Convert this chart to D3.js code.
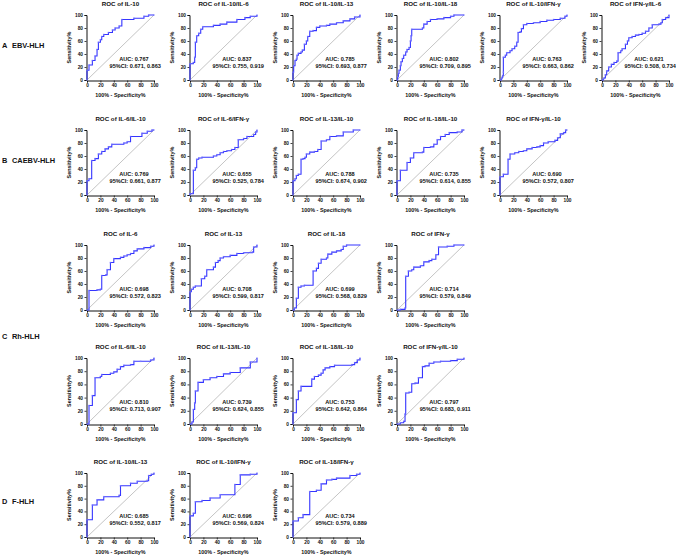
<!DOCTYPE html>
<html>
<head>
<meta charset="utf-8">
<script src="https://cdn.jsdelivr.net/npm/d3@7"></script>
<style>
  body { margin: 0; background: #fff; }
  text { font-family: Arial, "Liberation Sans", sans-serif; font-weight: bold; fill: #111; }
</style>
</head>
<body>
<div id="chart"></div>
<script>
// ROC points: [100% - specificity, sensitivity], drawn as steps (right, then up)
const ebv_il10      = [[0,0],[0,15],[3,23],[8,30],[12,37],[15,47],[17,58],[20,62],[22,67],[25,70],[32,73],[38,77],[42,80],[48,83],[52,93],[70,95],[85,98],[92,100],[100,100]];
const ebv_il10_il6  = [[0,0],[0,25],[5,27],[7,35],[8,58],[10,68],[13,72],[16,78],[19,82],[35,84],[45,86],[55,89],[70,93],[82,96],[90,98],[100,100]];
const ebv_il10_il13 = [[0,0],[0,12],[1,22],[3,30],[5,32],[6,38],[8,41],[12,43],[14,46],[17,55],[20,60],[22,67],[25,75],[30,76],[35,81],[40,83],[50,84],[55,86],[65,88],[75,91],[85,94],[92,97],[100,100]];
const ebv_il10_il18 = [[0,0],[1,5],[2,10],[3,15],[5,22],[6,28],[8,33],[10,38],[13,43],[15,47],[18,50],[20,60],[21,68],[22,78],[38,80],[40,86],[45,90],[50,93],[60,94],[70,96],[80,98],[85,100],[100,100]];
const ebv_il10_ifng = [[0,0],[2,2],[3,4],[4,7],[5,12],[5,35],[8,38],[10,42],[15,45],[18,48],[22,52],[25,58],[27,73],[30,74],[32,79],[35,85],[40,87],[50,88],[60,90],[70,92],[80,93],[90,95],[97,98],[100,100]];
const ebv_ifng_il6  = [[0,0],[2,2],[3,3],[5,8],[7,14],[10,20],[14,24],[18,27],[22,29],[24,30],[24,42],[28,45],[30,48],[35,55],[38,60],[40,65],[45,67],[50,69],[55,70],[60,72],[65,75],[70,80],[75,85],[85,86],[88,88],[90,93],[95,96],[100,100]];

const cae_il6_il10  = [[0,0],[0,22],[3,25],[7,53],[12,56],[17,63],[22,67],[27,71],[32,74],[37,78],[55,80],[60,82],[65,90],[82,95],[90,98],[97,100],[100,100]];
const cae_il6_ifng  = [[0,0],[0,2],[5,38],[8,42],[10,55],[13,57],[18,58],[35,60],[40,62],[45,65],[50,67],[55,68],[62,70],[67,73],[72,85],[80,87],[85,90],[95,93],[98,97],[100,100]];
const cae_il13_il10 = [[0,0],[0,22],[3,25],[5,30],[8,32],[12,55],[15,56],[18,58],[20,63],[25,66],[32,67],[37,70],[42,83],[50,85],[55,90],[65,91],[75,97],[90,100],[100,100]];
const cae_il18_il10 = [[0,0],[0,22],[5,38],[15,50],[20,57],[25,65],[38,66],[40,73],[50,74],[55,78],[60,85],[65,90],[72,93],[78,96],[90,97],[97,100],[100,100]];
const cae_ifng_il10 = [[0,0],[0,28],[5,32],[12,55],[15,63],[22,65],[28,67],[35,68],[40,71],[48,73],[55,74],[60,76],[65,80],[72,82],[82,84],[86,88],[90,94],[95,96],[98,100],[100,100]];

const rh_il6        = [[0,0],[3,2],[3,30],[15,31],[20,32],[22,53],[28,54],[30,62],[35,73],[40,79],[50,81],[55,83],[60,85],[65,87],[70,91],[75,94],[85,96],[95,98],[100,100]];
const rh_il13       = [[0,0],[0,28],[2,32],[5,35],[8,37],[17,48],[22,52],[25,62],[35,66],[38,73],[42,76],[45,80],[50,82],[60,84],[70,87],[80,88],[93,89],[95,97],[100,100]];
const rh_il18       = [[0,0],[2,3],[5,18],[8,35],[12,37],[17,38],[30,60],[35,64],[38,72],[42,78],[50,80],[52,86],[58,89],[65,91],[72,93],[75,98],[80,100],[100,100]];
const rh_ifng       = [[0,0],[5,1],[12,3],[13,52],[17,60],[22,62],[25,66],[35,68],[40,74],[48,76],[52,78],[58,85],[62,97],[75,98],[85,100],[100,100]];
const rh_il6_il10   = [[0,0],[3,2],[3,28],[8,43],[12,70],[20,72],[22,75],[35,77],[40,79],[45,83],[50,87],[55,89],[65,90],[70,95],[80,95],[95,97],[100,100]];
const rh_il13_il10  = [[0,0],[3,3],[5,22],[7,32],[8,50],[12,63],[20,67],[30,70],[40,72],[50,76],[60,78],[75,85],[90,94],[100,100]];
const rh_il18_il10  = [[0,0],[0,17],[5,37],[8,50],[12,57],[28,68],[32,72],[38,74],[42,77],[45,82],[48,85],[55,87],[62,89],[88,90],[92,93],[96,97],[100,100]];
const rh_ifng_il10  = [[0,0],[5,2],[10,4],[12,15],[13,47],[18,48],[22,61],[27,62],[32,70],[38,87],[42,88],[48,92],[55,94],[65,95],[80,96],[90,98],[100,100]];

const f_il10_il13   = [[0,0],[0,27],[8,50],[15,58],[25,63],[48,65],[50,80],[65,84],[75,87],[90,88],[92,96],[96,98],[100,100]];
const f_il10_ifng   = [[0,0],[0,33],[5,37],[8,55],[18,57],[30,61],[45,66],[67,82],[75,97],[90,98],[100,100]];
const f_il18_ifng   = [[0,0],[0,25],[8,30],[15,35],[25,71],[35,73],[42,83],[50,89],[58,90],[65,92],[85,96],[95,98],[100,100]];

const groupLabels = ['A', 'B', 'C', 'D'];
const groupNames  = ['EBV-HLH', 'CAEBV-HLH', 'Rh-HLH', 'F-HLH'];
const axisTicks   = [0, 20, 40, 60, 80, 100];

const panels = [
  {row:0, col:0, title:'ROC of IL-10',        pts:ebv_il10,      auc:'0.767', ci:'0.671, 0.863'},
  {row:0, col:1, title:'ROC of IL-10/IL-6',   pts:ebv_il10_il6,  auc:'0.837', ci:'0.755, 0.919'},
  {row:0, col:2, title:'ROC of IL-10/IL-13',  pts:ebv_il10_il13, auc:'0.785', ci:'0.693, 0.877'},
  {row:0, col:3, title:'ROC of IL-10/IL-18',  pts:ebv_il10_il18, auc:'0.802', ci:'0.709, 0.895'},
  {row:0, col:4, title:'ROC of IL-10/IFN-γ',  pts:ebv_il10_ifng, auc:'0.763', ci:'0.663, 0.862'},
  {row:0, col:5, title:'ROC of IFN-γ/IL-6',   pts:ebv_ifng_il6,  auc:'0.621', ci:'0.508, 0.734'},
  {row:1, col:0, title:'ROC of IL-6/IL-10',   pts:cae_il6_il10,  auc:'0.769', ci:'0.661, 0.877'},
  {row:1, col:1, title:'ROC of IL-6/IFN-γ',   pts:cae_il6_ifng,  auc:'0.655', ci:'0.525, 0.784'},
  {row:1, col:2, title:'ROC of IL-13/IL-10',  pts:cae_il13_il10, auc:'0.788', ci:'0.674, 0.902'},
  {row:1, col:3, title:'ROC of IL-18/IL-10',  pts:cae_il18_il10, auc:'0.735', ci:'0.614, 0.855'},
  {row:1, col:4, title:'ROC of IFN-γ/IL-10',  pts:cae_ifng_il10, auc:'0.690', ci:'0.572, 0.807'},
  {row:2, col:0, title:'ROC of IL-6',         pts:rh_il6,        auc:'0.698', ci:'0.572, 0.823'},
  {row:2, col:1, title:'ROC of IL-13',        pts:rh_il13,       auc:'0.708', ci:'0.599, 0.817'},
  {row:2, col:2, title:'ROC of IL-18',        pts:rh_il18,       auc:'0.699', ci:'0.568, 0.829'},
  {row:2, col:3, title:'ROC of IFN-γ',        pts:rh_ifng,       auc:'0.714', ci:'0.579, 0.849'},
  {row:3, col:0, title:'ROC of IL-6/IL-10',   pts:rh_il6_il10,   auc:'0.810', ci:'0.713, 0.907'},
  {row:3, col:1, title:'ROC of IL-13/IL-10',  pts:rh_il13_il10,  auc:'0.739', ci:'0.624, 0.855'},
  {row:3, col:2, title:'ROC of IL-18/IL-10',  pts:rh_il18_il10,  auc:'0.753', ci:'0.642, 0.864'},
  {row:3, col:3, title:'ROC of IFN-γ/IL-10',  pts:rh_ifng_il10,  auc:'0.797', ci:'0.683, 0.911'},
  {row:4, col:0, title:'ROC of IL-10/IL-13',  pts:f_il10_il13,   auc:'0.685', ci:'0.552, 0.817'},
  {row:4, col:1, title:'ROC of IL-10/IFN-γ',  pts:f_il10_ifng,   auc:'0.696', ci:'0.569, 0.824'},
  {row:4, col:2, title:'ROC of IL-18/IFN-γ',  pts:f_il18_ifng,   auc:'0.734', ci:'0.579, 0.889'}
];

// layout
const width = 676, height = 555;
const colX = [87, 190, 293, 397, 500, 602];
const plotW = 67;
const rowTop = [15, 130, 245, 358, 473];
const rowBot = [80, 195, 310, 424, 537];
const labelY = [45, 160, 336, 501];

const svg = d3.select('#chart').append('svg')
  .attr('width', width)
  .attr('height', height);

// group labels on the left
groupLabels.forEach((g, i) => {
  const t = svg.append('g').attr('transform', 'translate(0,' + labelY[i] + ')');
  t.append('text').attr('x', 2).attr('dy', '0.35em').style('font-size', '7.4px').text(g);
  t.append('text').attr('x', 12).attr('dy', '0.35em').style('font-size', '7.4px').text(groupNames[i]);
});

panels.forEach(p => {
  const x0 = colX[p.col], y0 = rowTop[p.row], y1 = rowBot[p.row];

  const x = d3.scaleLinear().domain([0, 100]).range([x0, x0 + plotW]);
  const y = d3.scaleLinear().domain([0, 100]).range([y1, y0]);

  const g = svg.append('g');

  // title
  g.append('text')
    .attr('x', x0 + plotW / 2)
    .attr('y', y0 - 11)
    .attr('dy', '0.35em')
    .attr('text-anchor', 'middle')
    .style('font-size', '6.2px')
    .text(p.title);

  // reference diagonal
  g.append('line')
    .attr('x1', x(0)).attr('y1', y(0))
    .attr('x2', x(100)).attr('y2', y(100))
    .style('stroke', '#888')
    .style('stroke-width', 0.5);

  // axes
  const xAxis = d3.axisBottom(x).tickValues(axisTicks).tickSize(2).tickPadding(1.5);
  const yAxis = d3.axisLeft(y).tickValues(axisTicks).tickSize(2).tickPadding(1.5);

  const gx = g.append('g').attr('transform', 'translate(0,' + (y1 + 0.5) + ')').call(xAxis);
  const gy = g.append('g').attr('transform', 'translate(' + (x0 - 0.5) + ',0)').call(yAxis);

  [gx, gy].forEach(a => {
    a.select('.domain').style('stroke', '#111').style('stroke-width', 1);
    a.selectAll('.tick line').style('stroke', '#111').style('stroke-width', 0.8);
    a.selectAll('.tick text')
      .style('font-size', '4.8px')
      .style('font-family', 'Arial, "Liberation Sans", sans-serif')
      .style('font-weight', 'bold')
      .style('fill', '#111');
  });

  // axis titles
  g.append('text')
    .attr('x', x0 + plotW / 2)
    .attr('y', y1 + 15)
    .attr('dy', '0.35em')
    .attr('text-anchor', 'middle')
    .style('font-size', '5.4px')
    .text('100% - Specificity%');

  g.append('text')
    .attr('transform', 'translate(' + (x0 - 18) + ',' + ((y0 + y1) / 2) + ') rotate(-90)')
    .attr('dy', '0.35em')
    .attr('text-anchor', 'middle')
    .style('font-size', '5.4px')
    .text('Sensitivity%');

  // ROC curve
  const line = d3.line()
    .x(d => x(d[0]))
    .y(d => y(d[1]))
    .curve(d3.curveStepAfter);

  g.append('path')
    .datum(p.pts)
    .attr('d', line)
    .style('fill', 'none')
    .style('stroke', '#3535ff')
    .style('stroke-width', 1.1);

  g.selectAll('rect.pt')
    .data(p.pts)
    .enter()
    .append('rect')
    .attr('class', 'pt')
    .attr('x', d => x(d[0]) - 0.8)
    .attr('y', d => y(d[1]) - 0.8)
    .attr('width', 1.6)
    .attr('height', 1.6)
    .style('fill', '#8080ff')
    .style('opacity', 0.6);

  // AUC annotation
  g.append('text')
    .attr('x', x(70))
    .attr('y', y(33))
    .attr('dy', '0.35em')
    .attr('text-anchor', 'middle')
    .style('font-size', '5.6px')
    .text('AUC: ' + p.auc);

  g.append('text')
    .attr('x', x(72))
    .attr('y', y(22))
    .attr('dy', '0.35em')
    .attr('text-anchor', 'middle')
    .style('font-size', '5.6px')
    .text('95%CI: ' + p.ci);
});
</script>
</body>
</html>
